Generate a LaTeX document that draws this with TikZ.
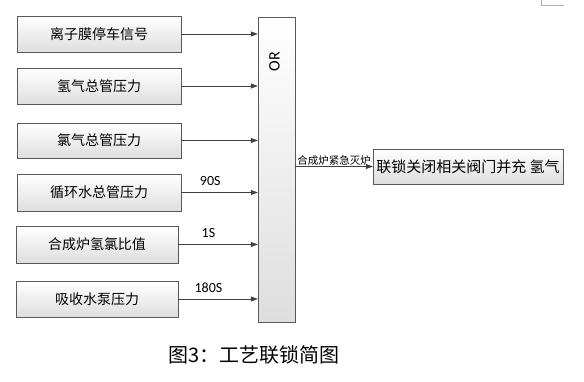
\documentclass[tikz,border=0pt]{standalone}
\usepackage{fontspec}
\setmainfont{Carlito}
\newfontfamily\cjk{Noto Sans CJK SC}
\usetikzlibrary{arrows.meta,positioning,calc,shadows}

\begin{document}
\begin{tikzpicture}[x=1pt,y=-1pt,
  box/.style={draw=black!65,top color=white,bottom color=black!13,inner sep=0pt,
    drop shadow={shadow xshift=1.2pt,shadow yshift=-1.2pt,opacity=0.35}},
  sig/.style={-{Triangle[length=7pt,width=5pt]},draw=black!75,line width=0.6pt},
  every node/.style={font=\cjk}]
\useasboundingbox (0,0) rectangle (584,382);
\draw[black!30] (541,0)--(541,5)--(564,5);
% OR block
\node[box,minimum width=37pt,minimum height=305pt] (or) at (276.5,169.5) {};
\node[rotate=90,font=\fontsize{16}{16}\selectfont] (orlbl) at ($(or.north)+(-2,45)$) {OR};
% input signals
\foreach \n/\x/\y/\w/\h/\txt in {1/99/34/164/36/离子膜停车信号,2/99/86/164/36/氢气总管压力,
  3/99/140.5/164/35/氯气总管压力,4/99/192.5/164/37/循环水总管压力,
  5/97/244.5/162/37/合成炉氢氯比值,6/97/299/162/36/吸收水泵压力}{
\node[box,minimum width=\w pt,minimum height=\h pt] (in\n) at (\x,\y) {\fontsize{14}{14}\selectfont\txt};
\draw[sig] (in\n.east) -- (in\n.east -| or.west);}
\foreach \n/\t in {4/90S,5/1S,6/180S}
\path (in\n.east) -- (in\n.east -| or.west) node[pos=0.38,above=3pt,font=\fontsize{14}{14}\selectfont] {\t};
% output
\node[box,minimum width=190pt,minimum height=35pt] (act) at (468,166.5) {\fontsize{15}{15}\selectfont 联锁关闭相关阀门并充 氢气};
\draw[sig] (or.east |- act.west) -- node[above,inner sep=1pt,font=\cjk\fontsize{10.5}{10.5}\selectfont] {合成炉紧急灭炉} (act.west);
\node[font=\cjk\fontsize{20}{20}\selectfont] (cap) at (254,355) {图3：工艺联锁简图};
\end{tikzpicture}
\end{document}
